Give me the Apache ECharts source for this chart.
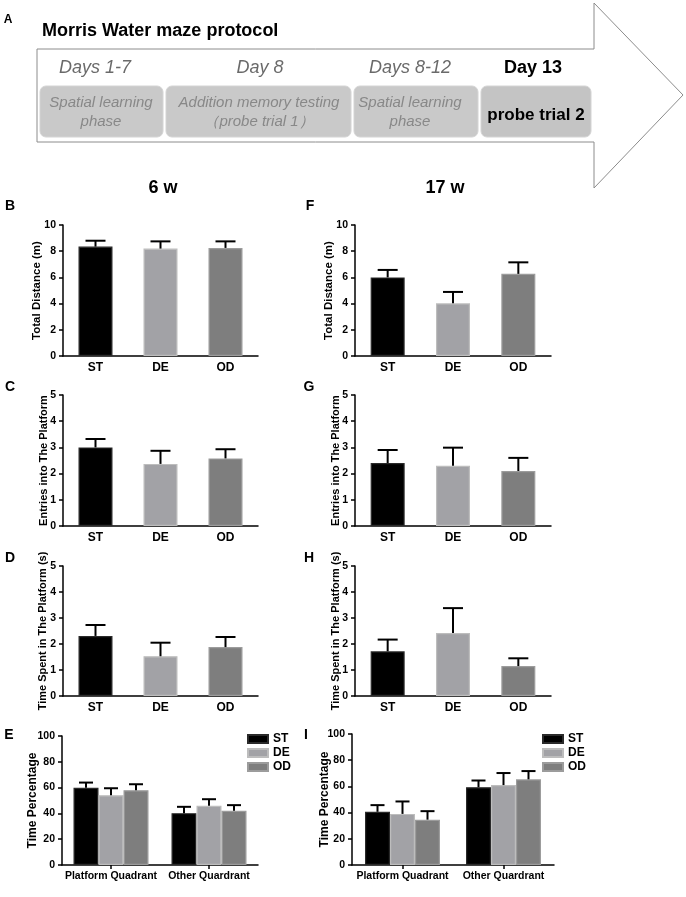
<!DOCTYPE html>
<html>
<head>
<meta charset="utf-8">
<title>Morris Water maze</title>
<script src="https://cdn.jsdelivr.net/npm/echarts@6.0.0/dist/echarts.min.js"></script>
<style>
html, body { margin: 0; padding: 0; background: #fff; }
#chart { width: 686px; height: 897px; }
</style>
</head>
<body>
<div id="chart"></div>
<script>
// ---------------------------data-------------------------------
var groups = ['ST', 'DE', 'OD'];
var quadrants = ['Platform Quadrant', 'Other Quardrant'];

// B / F  total distance (m)
var distance6w = [8.35, 8.2, 8.25];
var distance6wErr = [0.45, 0.55, 0.5];
var distance17w = [6.0, 4.02, 6.27];
var distance17wErr = [0.57, 0.87, 0.88];

// C / G  entries into the platform
var entries6w = [3.0, 2.37, 2.58];
var entries6wErr = [0.32, 0.5, 0.35];
var entries17w = [2.4, 2.3, 2.1];
var entries17wErr = [0.5, 0.69, 0.5];

// D / H  time spent in the platform (s)
var timeSpent6w = [2.31, 1.53, 1.88];
var timeSpent6wErr = [0.42, 0.52, 0.39];
var timeSpent17w = [1.72, 2.42, 1.15];
var timeSpent17wErr = [0.45, 0.96, 0.3];

// E / I  time percentage, [platform, other]
var pct6wST = [59.8, 40.2];
var pct6wSTErr = [4.1, 4.9];
var pct6wDE = [54.1, 45.9];
var pct6wDEErr = [5.4, 5.1];
var pct6wOD = [58.0, 42.0];
var pct6wODErr = [4.6, 4.4];
var pct17wST = [40.6, 59.4];
var pct17wSTErr = [5.1, 5.1];
var pct17wDE = [39.0, 61.0];
var pct17wDEErr = [9.5, 9.2];
var pct17wOD = [34.6, 65.4];
var pct17wODErr = [6.5, 6.3];

// protocol (panel A)
var phaseDays = ['Days 1-7', 'Day 8', 'Days 8-12', 'Day 13'];
var phaseText = [
	[ 'Spatial learning', 'phase' ],
	[ 'Addition memory testing', '（probe trial 1）' ],
	[ 'Spatial learning', 'phase' ],
	[ 'probe trial 2' ]
];

// ---------------------------styles-------------------------------
var FONT = '"Liberation Sans", Arial, sans-serif';
var barStyles = [
	{ color : '#000000', borderColor : '#2a2a2a', borderWidth : 1.2 },
	{ color : '#a2a2a6', borderColor : '#bdbdbd', borderWidth : 1.2 },
	{ color : '#7e7e7e', borderColor : '#9c9c9c', borderWidth : 1.2 }
];
var axisLine = { show : true, lineStyle : { color : '#000', width : 1.5 } };

var grids = [], xAxes = [], yAxes = [], series = [];

function errorSeries(idx, rows, capW, shift) {
	return {
		type : 'custom',
		xAxisIndex : idx,
		yAxisIndex : idx,
		z : 5,
		silent : true,
		data : rows,
		encode : { x : 0, y : 1 },
		renderItem : function(params, api) {
			var base = api.coord([ api.value(0), api.value(1) ]);
			var top = api.coord([ api.value(0), api.value(1) + api.value(2) ]);
			var x = base[0] + api.value(3) * shift;
			var st = { stroke : '#000', lineWidth : 2 };
			return {
				type : 'group',
				children : [
					{ type : 'line', shape : { x1 : x, y1 : base[1], x2 : x, y2 : top[1] }, style : st },
					{ type : 'line', shape : { x1 : x - capW / 2, y1 : top[1], x2 : x + capW / 2, y2 : top[1] }, style : st }
				]
			};
		}
	};
}

function yAxisFor(idx, max, step, name, gap, size) {
	return {
		gridIndex : idx,
		type : 'value',
		min : 0,
		max : max,
		interval : step,
		name : name,
		nameLocation : 'middle',
		nameGap : gap,
		nameMoveOverlap : false,
		nameTextStyle : { color : '#000', fontWeight : 'bold', fontSize : size, fontFamily : FONT },
		axisLine : axisLine,
		axisTick : { show : true, length : 4, lineStyle : { color : '#000', width : 1.5 } },
		splitLine : { show : false },
		axisLabel : { color : '#000', fontWeight : 'bold', fontSize : 10.5, fontFamily : FONT, margin : 7 }
	};
}

function addSimplePanel(grid, mean, err, max, step, name, gap, size) {
	var i = grids.length;
	grids.push(grid);
	xAxes.push({
		gridIndex : i,
		type : 'category',
		data : groups,
		axisLine : axisLine,
		axisTick : { show : false },
		axisLabel : { color : '#000', fontWeight : 'bold', fontSize : 12, fontFamily : FONT, margin : 6 }
	});
	yAxes.push(yAxisFor(i, max, step, name, gap, size));
	series.push({
		type : 'bar',
		name : name,
		xAxisIndex : i,
		yAxisIndex : i,
		barWidth : 34,
		data : mean.map(function(v, k) {
			return { value : v, itemStyle : barStyles[k] };
		})
	});
	series.push(errorSeries(i, mean.map(function(v, k) {
		return [ k, v, err[k], 0 ];
	}), 20, 0));
}

function addGroupedPanel(grid, means, errs, gap) {
	var i = grids.length;
	grids.push(grid);
	xAxes.push({
		gridIndex : i,
		type : 'category',
		data : quadrants,
		axisLine : axisLine,
		axisTick : { show : true, alignWithLabel : true, length : 4, lineStyle : { color : '#000', width : 1.5 } },
		axisLabel : { interval : 0, color : '#000', fontWeight : 'bold', fontSize : 10.5, fontFamily : FONT, margin : 6 }
	});
	yAxes.push(yAxisFor(i, 100, 20, 'Time Percentage', gap, 12));
	var rows = [];
	means.forEach(function(m, k) {
		series.push({
			type : 'bar',
			name : groups[k],
			xAxisIndex : i,
			yAxisIndex : i,
			barWidth : 25,
			barGap : '0%',
			itemStyle : barStyles[k],
			data : m
		});
		m.forEach(function(v, c) {
			rows.push([ c, v, errs[k][c], k - 1 ]);
		});
	});
	series.push(errorSeries(i, rows, 14, 25));
}

// ---------------------------panels-------------------------------
addSimplePanel({ left : 63, top : 225, width : 195, height : 131 }, distance6w, distance6wErr, 10, 2, 'Total Distance (m)', 20, 11.5);
addSimplePanel({ left : 63, top : 395, width : 195, height : 131 }, entries6w, entries6wErr, 5, 1, 'Entries into The Platform', 14, 11);
addSimplePanel({ left : 63, top : 566, width : 195, height : 130 }, timeSpent6w, timeSpent6wErr, 5, 1, 'Time Spent in The Platform (s)', 14.5, 11);
addGroupedPanel({ left : 62, top : 736, width : 196, height : 129 }, [ pct6wST, pct6wDE, pct6wOD ], [ pct6wSTErr, pct6wDEErr, pct6wODErr ], 23);

addSimplePanel({ left : 355, top : 225, width : 196, height : 131 }, distance17w, distance17wErr, 10, 2, 'Total Distance (m)', 20, 11.5);
addSimplePanel({ left : 355, top : 395, width : 196, height : 131 }, entries17w, entries17wErr, 5, 1, 'Entries into The Platform', 13.5, 11);
addSimplePanel({ left : 355, top : 566, width : 196, height : 130 }, timeSpent17w, timeSpent17wErr, 5, 1, 'Time Spent in The Platform (s)', 13.5, 11);
addGroupedPanel({ left : 352, top : 734, width : 202, height : 131 }, [ pct17wST, pct17wDE, pct17wOD ], [ pct17wSTErr, pct17wDEErr, pct17wODErr ], 21);

// ---------------------------graphic: protocol + letters-------------------------------
function txt(x, y, s, font, fill, align) {
	return {
		type : 'text',
		x : x,
		y : y,
		style : { text : s, font : font, fill : fill || '#000', textAlign : align || 'center', textVerticalAlign : 'middle' }
	};
}

var graphics = [];
graphics.push({
	type : 'polygon',
	shape : { points : [ [ 37, 49 ], [ 594, 49 ], [ 594, 3 ], [ 683, 95 ], [ 594, 188 ], [ 594, 142 ], [ 37, 142 ] ] },
	style : { fill : '#fff', stroke : '#8c8c8c', lineWidth : 1 }
});
graphics.push(txt(8, 20, 'A', 'bold 12px ' + FONT));
graphics.push(txt(42, 31, 'Morris Water maze protocol', 'bold 18px ' + FONT, '#000', 'left'));

var boxes = [ { x : 40, w : 123, cx : 101 }, { x : 166, w : 185, cx : 259 }, { x : 354, w : 124, cx : 410 }, { x : 481, w : 110, cx : 536 } ];
var dayCx = [ 95, 260, 410, 533 ];
boxes.forEach(function(b, k) {
	graphics.push({
		type : 'rect',
		shape : { x : b.x, y : 86, width : b.w, height : 51, r : 6 },
		style : { fill : k === 3 ? '#c4c4c4' : '#c9c9c9', stroke : '#d4d4d4', lineWidth : 1 }
	});
	if (k === 3) {
		graphics.push(txt(dayCx[k], 68, phaseDays[k], 'bold 18px ' + FONT, '#000'));
		graphics.push(txt(b.cx, 115, phaseText[k][0], 'bold 17px ' + FONT, '#000'));
	} else {
		graphics.push(txt(dayCx[k], 68, phaseDays[k], 'italic 18px ' + FONT, '#6a6a6a'));
		graphics.push(txt(b.cx, 103, phaseText[k][0], 'italic 15px ' + FONT, '#888888'));
		graphics.push(txt(b.cx, 122, phaseText[k][1], 'italic 15px ' + FONT, '#888888'));
	}
});

graphics.push(txt(163, 188, '6 w', 'bold 18px ' + FONT));
graphics.push(txt(445, 188, '17 w', 'bold 18px ' + FONT));

var letters = [ [ 'B', 10, 206 ], [ 'C', 10, 387 ], [ 'D', 10, 558 ], [ 'E', 9, 735 ], [ 'F', 310, 206 ], [ 'G', 309, 387 ], [ 'H', 309, 558 ], [ 'I', 306, 735 ] ];
letters.forEach(function(l) {
	graphics.push(txt(l[1], l[2], l[0], 'bold 14px ' + FONT));
});

function legendAt(left) {
	return {
		data : groups,
		orient : 'vertical',
		left : left,
		top : 732,
		padding : 0,
		itemGap : 0,
		itemWidth : 20,
		itemHeight : 8,
		icon : 'rect',
		selectedMode : false,
		textStyle : { color : '#000', fontWeight : 'bold', fontSize : 12, lineHeight : 14, fontFamily : FONT }
	};
}

var chart = echarts.init(document.getElementById('chart'));
chart.setOption({
	animation : false,
	backgroundColor : '#fff',
	textStyle : { fontFamily : FONT },
	grid : grids,
	xAxis : xAxes,
	yAxis : yAxes,
	legend : [ legendAt(247), legendAt(542) ],
	series : series,
	graphic : graphics
});
</script>
</body>
</html>
